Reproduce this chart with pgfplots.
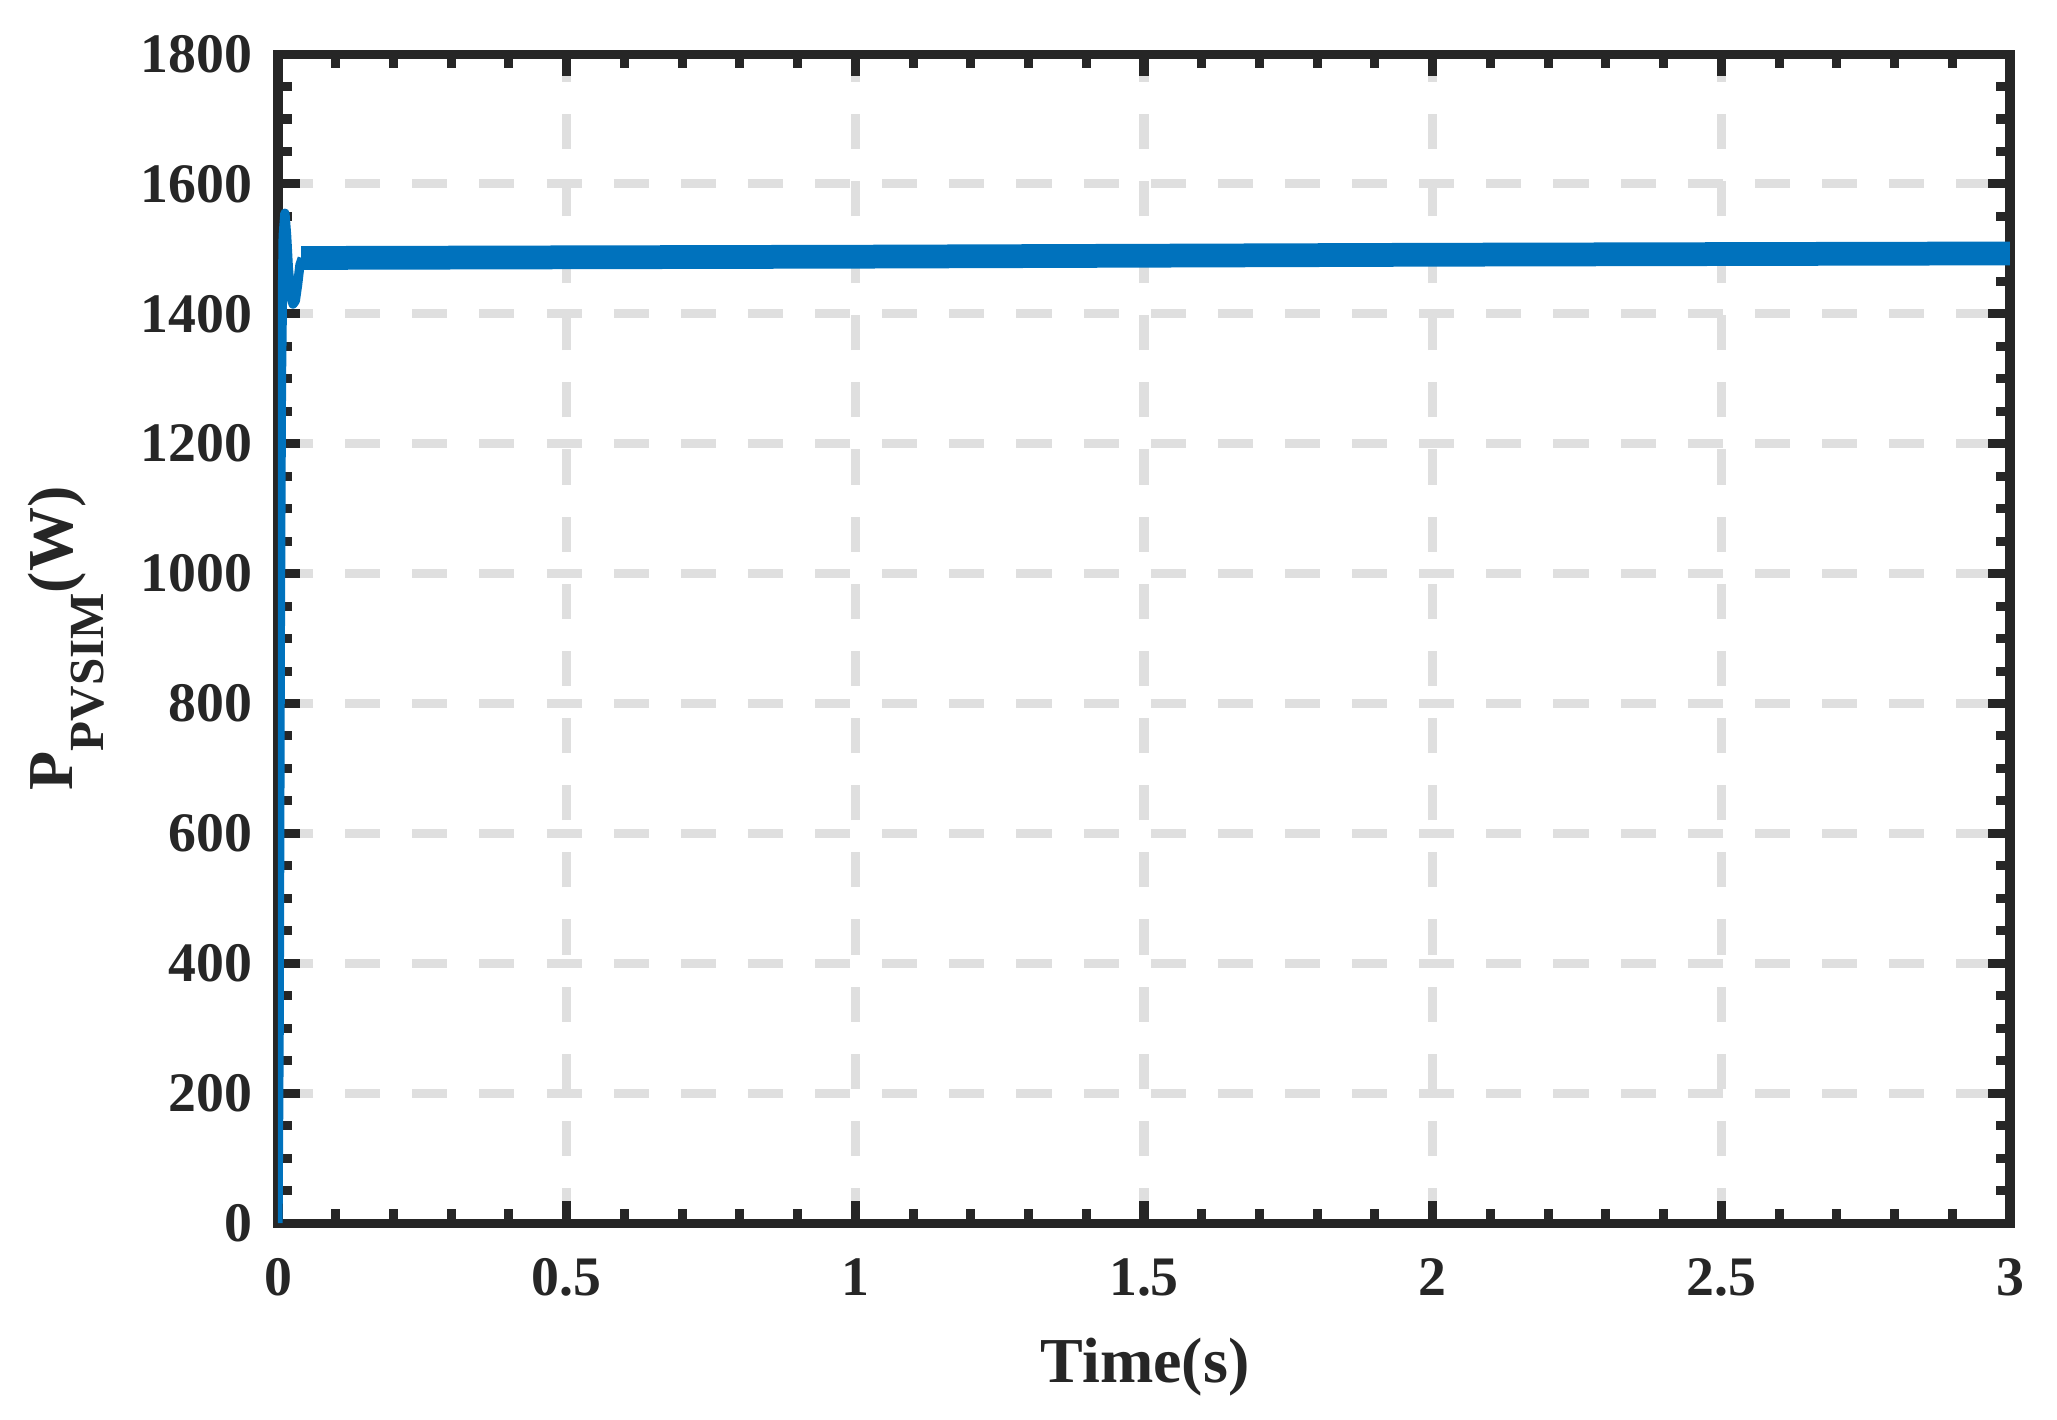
\documentclass[border=0pt]{standalone}
\usepackage{fontspec}
\setmainfont{Liberation Serif}
\usepackage{pgfplots}
\pgfplotsset{compat=1.18}

\definecolor{mblue}{HTML}{0072BD}
\definecolor{txt}{HTML}{262626}
\definecolor{gridgray}{HTML}{DFDFDF}

\begin{document}
\begin{tikzpicture}
\begin{axis}[name=ax,
  scale only axis, width=11.788cm, height=7.956cm,
  xmin=0, xmax=3, ymin=0, ymax=1800,
  xtick={0,0.5,...,3}, ytick={0,200,...,1800},
  minor x tick num=4, minor y tick num=3,
  tick align=inside,
  major tick length=4.3pt, minor tick length=2.7pt,
  every tick/.style={line width=1.75pt, color=txt},
  axis line style={line width=1.75pt, color=txt},
  grid=major,
  major grid style={line width=1.75pt, color=gridgray, dash pattern=on 6.8pt off 6.2pt},
  /pgf/number format/assume math mode=true,
  /pgf/number format/1000 sep={},
  tick label style={font=\fontsize{10.8}{12}\selectfont\bfseries, color=txt},
  yticklabel style={xshift=-1.4pt},
  xticklabel style={yshift=-3.3pt},
  every axis x label/.style={at={(axis description cs:0.5007,-0.136)}, anchor=base},
  every axis y label/.style={at={(axis description cs:-0.1189,0.5)}, rotate=90, anchor=base},
  label style={font=\fontsize{12.4}{14}\selectfont\bfseries, color=txt},
  xlabel={Time(s)},
  ylabel={P\raisebox{-6pt}{\fontsize{9.5}{10}\selectfont PVSIM}(W)},
]
% start-up transient
\addplot[mblue, line width=1.8pt, line join=round] coordinates {
  (0,0) (0.002,300) (0.004,900) (0.006,1300) (0.009,1520) (0.012,1555)
  (0.015,1520) (0.018,1470) (0.022,1430) (0.026,1415) (0.030,1420)
  (0.034,1445) (0.038,1475) (0.042,1486)
};
% steady state with ripple band
\addplot[mblue, line width=4.6pt, line cap=butt] coordinates {
  (0.040,1486) (0.5,1487) (1,1488) (1.5,1489.5) (2,1491) (2.5,1492) (3,1493)
};
\end{axis}
\pgfresetboundingbox
\path[use as bounding box] (ax.south west) ++(-1.892cm,-1.334cm) rectangle ++(14cm,9.658cm);
\end{tikzpicture}
\end{document}
